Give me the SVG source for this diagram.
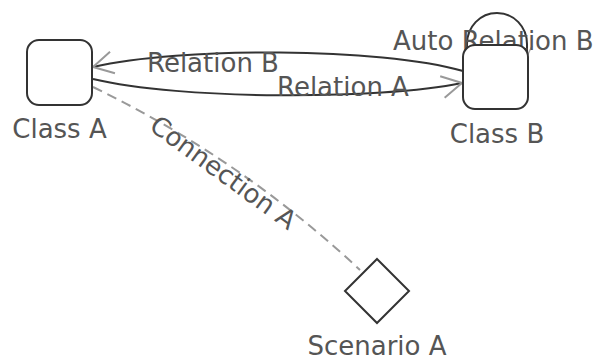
<svg xmlns="http://www.w3.org/2000/svg" width="597" height="360" viewBox="0 0 597 360">
  <style>
    .node { fill: #ffffff; stroke: #333333; stroke-width: 2; }
    .label { font-family: "DejaVu Sans", Verdana, sans-serif; font-size: 26px; fill: #555555; }
    .rel { fill: none; stroke: #333333; stroke-width: 2; }
    .conn { fill: none; stroke: #999999; stroke-width: 2; stroke-dasharray: 10 6; }
  </style>
  <defs>
    <marker id="openArrow" viewBox="0 0 22 26" refX="21" refY="13" markerWidth="22" markerHeight="26" markerUnits="userSpaceOnUse" orient="auto">
      <path d="M1,2 L21,13 L1,24" fill="none" stroke="#999999" stroke-width="2"/>
    </marker>
    <marker id="smallArrow" viewBox="0 0 12 12" refX="11" refY="6" markerWidth="12" markerHeight="12" markerUnits="userSpaceOnUse" orient="auto">
      <path d="M1,1 L11,6 L1,11" fill="none" stroke="#aaaaaa" stroke-width="1.5"/>
    </marker>
  </defs>
  <rect width="597" height="360" fill="#ffffff"/>

  <g id="connectors">
    <g id="relation-b">
      <path class="rel" d="M463,71 C380,47 180,47 93,67" marker-end="url(#openArrow)"/>
      <text class="label" x="147" y="72">Relation B</text>
    </g>
    <g id="relation-a">
      <path class="rel" d="M93,79 C180,100 380,100 462,83" marker-end="url(#openArrow)"/>
      <text class="label" x="277" y="96">Relation A</text>
    </g>
    <g id="auto-relation-b">
      <path class="rel" d="M467,58 L467,44 C467,27 480,13 497,13 C514,13 527,27 527,44 L527,56" marker-end="url(#smallArrow)"/>
      <text class="label" x="393" y="50">Auto Relation B</text>
    </g>
    <g id="connection-a">
      <path class="conn" d="M93,87 Q240,158 360,270"/>
      <text class="label" transform="translate(148,129) rotate(36)">Connection A</text>
    </g>
  </g>

  <g id="class-a">
    <rect class="node" x="27" y="40" width="65" height="65" rx="12" ry="12"/>
    <text class="label" x="59.5" y="138" text-anchor="middle">Class A</text>
  </g>

  <g id="class-b">
    <rect class="node" x="463" y="45" width="65" height="64" rx="12" ry="12"/>
    <text class="label" x="497" y="143" text-anchor="middle">Class B</text>
  </g>

  <g id="scenario-a">
    <path class="node" d="M377,259 L409,291 L377,323 L345,291 Z"/>
    <text class="label" x="377" y="355" text-anchor="middle">Scenario A</text>
  </g>
</svg>
